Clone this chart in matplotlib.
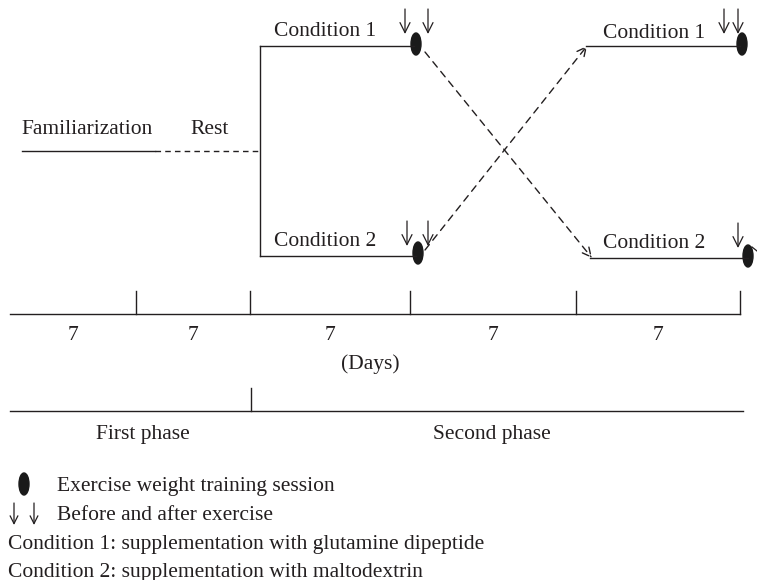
import matplotlib.pyplot as plt
from matplotlib.patches import Ellipse

plt.rcParams['font.family'] = ['Liberation Serif', 'DejaVu Serif']

# diagram layout in pixel units of the original figure
week_ticks = [10, 136, 250, 410, 576, 740]
week_labels = ['7', '7', '7', '7', '7']
phase_ticks = [10, 251, 743]
phase_labels = ['First phase', 'Second phase']
cond_labels = ['Condition 1', 'Condition 2']
legend_lines = ['Exercise weight training session',
                'Before and after exercise',
                'Condition 1: supplementation with glutamine dipeptide',
                'Condition 2: supplementation with maltodextrin']

ink = '#231f20'
fs = 15.5
dy = 2  # small nudge so text sits like the original


def down_arrow(x, y0, y1, lw=0.9, ms=18):
    ax.annotate('', xy=(x, y1), xytext=(x, y0),
                arrowprops=dict(arrowstyle='->', color=ink, lw=lw, shrinkA=0, shrinkB=0,
                                mutation_scale=ms))


def label(x, y, s, ha='center'):
    ax.text(x, y + dy, s, fontsize=fs, ha=ha, va='center', color=ink)


fig = plt.figure(figsize=(7.57, 5.8), dpi=100)
ax = fig.add_axes([0, 0, 1, 1])
ax.set_xlim(0, 757)
ax.set_ylim(580, 0)
ax.axis('off')

# familiarization and rest
ax.plot([22, 155], [151, 151], color=ink, lw=1)
ax.plot([155, 260], [151, 151], color=ink, lw=1, ls=(0, (4, 3)))
label(87, 128, 'Familiarization')
label(210, 128, 'Rest')

# split into the two conditions
ax.plot([260, 260], [46, 256], color=ink, lw=1)
ax.plot([260, 414], [46, 46], color=ink, lw=1)
ax.plot([260, 416], [256, 256], color=ink, lw=1)
ax.plot([586, 740], [46, 46], color=ink, lw=1)
ax.plot([590, 748], [258, 258], color=ink, lw=1)

label(325, 30, cond_labels[0])
label(325, 240, cond_labels[1])
label(654, 32, cond_labels[0])
label(654, 242, cond_labels[1])

# crossover arrows
ax.annotate('', xy=(592, 258), xytext=(425, 52),
            arrowprops=dict(arrowstyle='->', color=ink, lw=1, ls=(0, (5, 4)), shrinkA=0, shrinkB=0,
                            mutation_scale=16))
ax.annotate('', xy=(587, 46), xytext=(425, 250),
            arrowprops=dict(arrowstyle='->', color=ink, lw=1, ls=(0, (5, 4)), shrinkA=0, shrinkB=0,
                            mutation_scale=16))

# exercise sessions
for ex, ey in [(416, 44), (418, 253), (742, 44), (748, 256)]:
    ax.add_patch(Ellipse((ex, ey), 10, 22, color='#1a1a1a'))

# before/after arrows
for axx, ay in [(405, 9), (428, 9), (724, 9), (738, 9), (407, 221), (428, 221), (738, 223)]:
    down_arrow(axx, ay, ay + 25)
ax.plot([752, 757], [247, 251], color=ink, lw=0.9)

# days timeline
ax.plot([week_ticks[0], week_ticks[-1]], [314, 314], color=ink, lw=1)
for tx in week_ticks[1:]:
    ax.plot([tx, tx], [291, 314], color=ink, lw=1)
for i, lab in enumerate(week_labels):
    label((week_ticks[i] + week_ticks[i + 1]) / 2, 333, lab)
label(370, 362, '(Days)')

# phases timeline
ax.plot([phase_ticks[0], phase_ticks[-1]], [411, 411], color=ink, lw=1)
ax.plot([phase_ticks[1], phase_ticks[1]], [388, 411], color=ink, lw=1)
label(143, 432, phase_labels[0])
label(492, 432, phase_labels[1])

# legend
ax.add_patch(Ellipse((24, 484), 10, 22, color='#1a1a1a'))
label(57, 484, legend_lines[0], ha='left')
down_arrow(14, 503, 525, ms=14)
down_arrow(34, 503, 525, ms=14)
label(57, 513, legend_lines[1], ha='left')
label(8, 542, legend_lines[2], ha='left')
label(8, 570, legend_lines[3], ha='left')

fig.savefig('out.png', dpi=100)
